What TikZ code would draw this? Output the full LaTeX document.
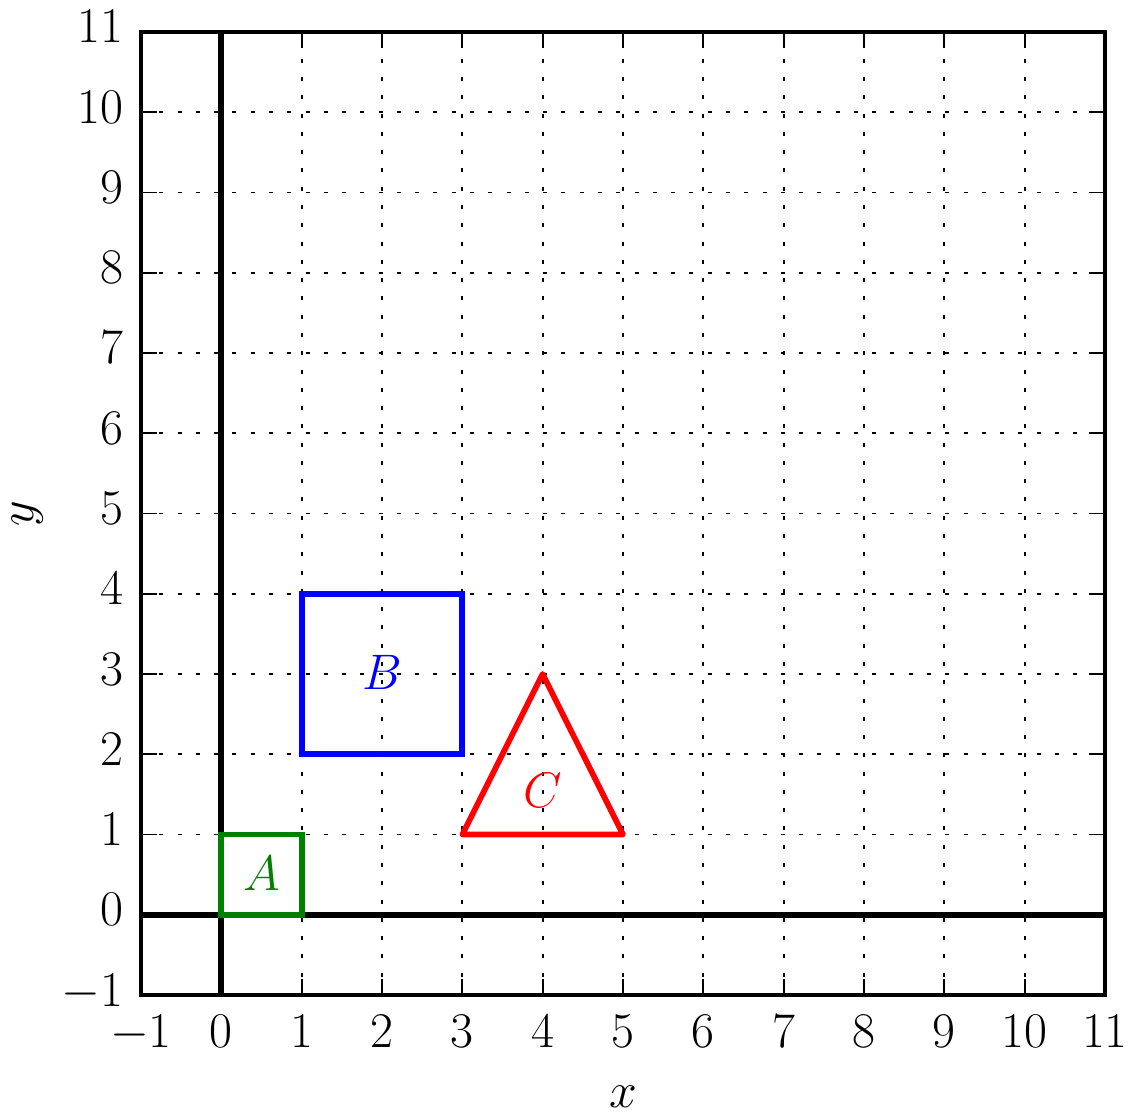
\RequirePackage{fix-cm}
\documentclass[tikz,border=0pt]{standalone}
\definecolor{mplgreen}{RGB}{0,128,0}
\definecolor{mplblue}{RGB}{0,0,255}
\definecolor{mplred}{RGB}{255,0,0}
\tikzset{
  lbl/.style={inner sep=0pt, font=\fontsize{35.5}{42}\selectfont},
  gridline/.style={line width=1.3pt, dash pattern=on 0.1cm off 0.357cm},
  tickmark/.style={line width=1.4pt},
  zeroline/.style={line width=4.05pt},
  frameline/.style={line width=3.05pt},
  shapeline/.style={line width=4.05pt},
}
\begin{document}
\begin{tikzpicture}[x=2.0083cm,y=2.0063cm]
\useasboundingbox (-2.7553,-2.5202) rectangle (11.349,11.3988);
% grid
\foreach \i in {1,...,10}{
  \draw[gridline] (\i,-1) -- (\i,11);
  \draw[gridline] (-1,\i) -- (11,\i);
}
% ticks
\foreach \i in {-1,...,11}{
  \draw[tickmark] (\i,-1) -- ++(0,0.2);
  \draw[tickmark] (\i,11) -- ++(0,-0.2);
  \draw[tickmark] (-1,\i) -- ++(0.2,0);
  \draw[tickmark] (11,\i) -- ++(-0.2,0);
  \node[lbl, anchor=base] (xl\i) at (\i,-1.66) {$\i$};
  \node[lbl, anchor=base east] (yl\i) at (-1.212,\i-0.137) {$\i$};
}
% zero lines
\draw[zeroline] (-1,0) -- (11,0);
\draw[zeroline] (0,-1) -- (0,11);
% shapes
\draw[shapeline, mplgreen] (0,0) rectangle (1,1);
\draw[shapeline, mplblue] (1,2) rectangle (3,4);
\draw[shapeline, mplred, line join=round] (3,1) -- (5,1) -- (4,3) -- cycle;
\node[lbl, text=mplgreen] (A) at (0.5,0.52) {$A$};
\node[lbl, text=mplblue] (B) at (2,3.02) {$B$};
\node[lbl, text=mplred] (C) at (4,1.55) {$C$};
% frame
\draw[frameline] (-1,-1) rectangle (11,11);
% axis labels
\node[lbl, anchor=base] (xlab) at (5,-2.40) {$x$};
\node[lbl, anchor=base, rotate=90] (ylab) at (-2.338,5) {$y$};
\end{tikzpicture}
\end{document}
